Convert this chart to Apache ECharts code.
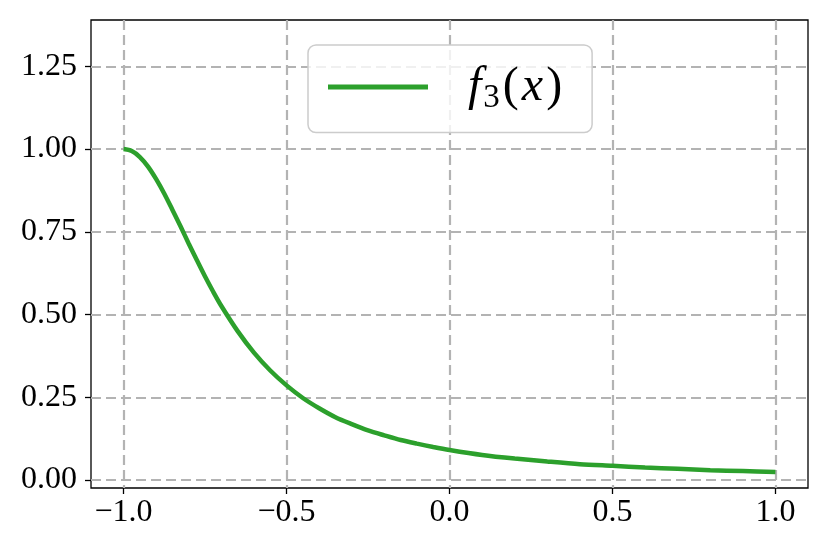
<!DOCTYPE html>
<html>
<head>
<meta charset="utf-8">
<script src="https://cdn.jsdelivr.net/npm/echarts@6/dist/echarts.min.js"></script>
<style>
html, body { margin: 0; padding: 0; background: #fff; }
#chart { width: 829px; height: 553px; }
</style>
</head>
<body>
<div id="chart"></div>
<script>
// values
var xs = [-1.0, -0.975, -0.95, -0.925, -0.9, -0.875, -0.85, -0.825, -0.8, -0.775, -0.75, -0.725, -0.7, -0.65, -0.6, -0.55, -0.5, -0.45, -0.4, -0.35, -0.3, -0.25, -0.2, -0.15, -0.1, -0.05, 0.0, 0.1, 0.2, 0.3, 0.4, 0.5, 0.6, 0.7, 0.8, 0.9, 1.0];
var f3 = [1.000, 0.994, 0.976, 0.947, 0.909, 0.865, 0.816, 0.766, 0.714, 0.664, 0.615, 0.569, 0.526, 0.450, 0.385, 0.331, 0.286, 0.248, 0.217, 0.190, 0.169, 0.150, 0.135, 0.121, 0.110, 0.100, 0.091, 0.076, 0.065, 0.056, 0.048, 0.043, 0.038, 0.034, 0.030, 0.027, 0.024];
var xTicks = [-1.0, -0.5, 0.0, 0.5, 1.0];
var yTicks = [0.0, 0.25, 0.5, 0.75, 1.0, 1.25];

var font = 'Liberation Serif';
var gridDash = { color: '#b3b3b3', width: 2.2, type: [10, 5] };

function minus(s) { return s.replace('-', '\u2212'); }

var data = xs.map(function (x, i) { return [x, f3[i]]; });

var chart = echarts.init(document.getElementById('chart'));
chart.setOption({
    backgroundColor: '#fff',
    animation: false,
    grid: {
        left: 91, right: 21, top: 20, bottom: 65,
        show: true, borderColor: '#000', borderWidth: 1.3, backgroundColor: 'transparent'
    },
    legend: {
        left: 308, top: 45,
        padding: [18, 30, 18, 20],
        itemWidth: 100, itemHeight: 5, itemGap: 0,
        backgroundColor: 'rgba(255,255,255,0.8)',
        borderColor: '#cccccc', borderWidth: 1.5, borderRadius: 8,
        formatter: function () { return '{i|f}{s|3}{n|(}{x|x}{n|)}'; },
        textStyle: {
            padding: [0, 0, 0, 35],
            rich: {
                i: { fontFamily: font, fontStyle: 'italic', fontSize: 48, color: '#000' },
                x: { fontFamily: font, fontStyle: 'italic', fontSize: 48, color: '#000', padding: [0, 3, 0, 3] },
                n: { fontFamily: font, fontSize: 48, color: '#000' },
                s: { fontFamily: font, fontSize: 33, color: '#000', padding: [22, 3, 0, 2] }
            }
        },
        data: [{ name: 'f3', icon: 'rect', itemStyle: { color: '#2ca02c' } }]
    },
    xAxis: {
        type: 'value', min: -1.1, max: 1.1,
        axisLine: { show: false, onZero: false },
        axisTick: { show: true, length: 6, lineStyle: { color: '#000', width: 1.3 }, customValues: xTicks },
        axisLabel: {
            customValues: xTicks, margin: 9,
            fontFamily: font, fontSize: 32, color: '#000',
            formatter: function (v) { return minus(v.toFixed(1)); }
        },
        splitLine: { show: true, lineStyle: gridDash }
    },
    yAxis: {
        type: 'value', min: -0.024, max: 1.39,
        axisLine: { show: false, onZero: false },
        axisTick: { show: true, length: 6, lineStyle: { color: '#000', width: 1.3 }, customValues: yTicks },
        axisLabel: {
            customValues: yTicks, margin: 14,
            fontFamily: font, fontSize: 32, color: '#000',
            formatter: function (v) { return minus(v.toFixed(2)); }
        },
        splitLine: { show: true, lineStyle: gridDash }
    },
    series: [{
        name: 'f3',
        type: 'line',
        data: data,
        smooth: 0.3,
        symbol: 'none',
        color: '#2ca02c',
        lineStyle: { color: '#2ca02c', width: 4.5 },
        z: 3
    }]
});
</script>
</body>
</html>
